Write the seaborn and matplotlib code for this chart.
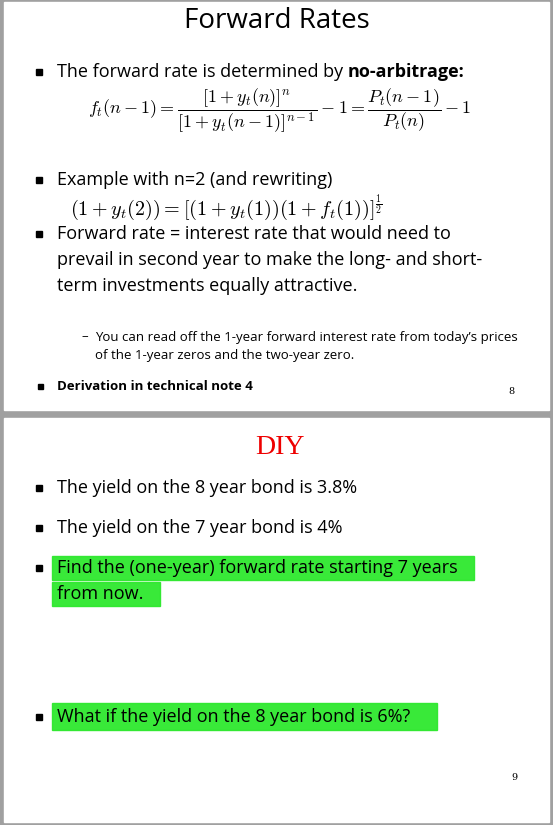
import matplotlib
matplotlib.use("Agg")
import matplotlib.pyplot as plt
import seaborn as sns
from matplotlib.patches import Rectangle

sns.set_style("white")
plt.rcParams['font.family'] = ['Open Sans', 'DejaVu Sans']
plt.rcParams['mathtext.fontset'] = 'cm'
plt.rcParams['text.color'] = 'black'

# slide texts
top_title = "Forward Rates"
top_bullets = [
    (180, "Example with n=2 (and rewriting)"),
    (234, "Forward rate = interest rate that would need to"),
]
top_cont = [(260, "prevail in second year to make the long- and short-"),
            (286, "term investments equally attractive.")]
sub_lines = [(337, "You can read off the 1-year forward interest rate from today\u2019s prices"),
             (356, "of the 1-year zeros and the two-year zero.")]
bottom_bullets = [(488, "The yield on the 8 year bond is 3.8%"),
                  (528, "The yield on the 7 year bond is 4%"),
                  (568, "Find the (one-year) forward rate starting 7 years"),
                  (717, "What if the yield on the 8 year bond is 6%?")]
highlights = [(52, 556, 422, 24), (52, 582, 108, 24), (52, 703, 385, 27)]

fig = plt.figure(figsize=(5.53, 8.25), dpi=100)
fig.patch.set_facecolor("#a0a0a0")
ax = fig.add_axes([0, 0, 1, 1])
ax.set_xlim(0, 553)
ax.set_ylim(825, 0)
ax.axis("off")

ax.add_patch(Rectangle((4, 2), 545, 408, color="white"))
ax.add_patch(Rectangle((4, 418), 545, 404, color="white"))
for x, y, w, h in highlights:
    ax.add_patch(Rectangle((x, y), w, h, color="#2ee82e", alpha=0.95))

ax.text(277, 21, top_title, ha="center", va="center", fontsize=20)

def bullet(y, s, size=13):
    ax.add_patch(Rectangle((36, y - 3), 6, 6, color="black"))
    return ax.text(57, y, s, va="center", fontsize=size)

t = bullet(72, "The forward rate is determined by ")
ax.annotate("no-arbitrage:", xycoords=t, xy=(1, 0.5), va="center",
            fontsize=13, fontweight="bold")
ax.annotate(":", xycoords=t, xy=(1, 0.5), xytext=(118, 0), textcoords="offset points",
            va="center", fontsize=13, alpha=0)
for y, s in top_bullets:
    bullet(y, s)
for y, s in top_cont:
    ax.text(57, y, s, va="center", fontsize=13)

ax.text(88, 111, r"$f_t(n-1)=\dfrac{[1+y_t(n)]^n}{[1+y_t(n-1)]^{n-1}}-1=\dfrac{P_t(n-1)}{P_t(n)}-1$",
        va="center", fontsize=13)
ax.text(70, 208, r"$(1+y_t(2))=[(1+y_t(1))(1+f_t(1))]^{\frac{1}{2}}$",
        va="center", fontsize=14.5)

for y, s in sub_lines:
    if y == 337:
        ax.text(81, y, "\u2013", va="center", fontsize=9.5)
    ax.text(95, y, s, va="center", fontsize=9.5)

ax.add_patch(Rectangle((38, 384), 5, 5, color="black"))
ax.text(57, 387, "Derivation in technical note 4", va="center", fontsize=9.5, fontweight="bold")
ax.text(508, 391, "8", va="center", fontsize=7, family="DejaVu Serif")

ax.text(280, 448, "DIY", ha="center", va="center", fontsize=20, color="#ee0000",
        family="Liberation Serif")
for y, s in bottom_bullets:
    bullet(y, s)
ax.text(57, 594, "from now.", va="center", fontsize=13)
ax.text(511, 778, "9", va="center", fontsize=7, family="DejaVu Serif")

fig.savefig("out.png", dpi=100, facecolor=fig.get_facecolor())
